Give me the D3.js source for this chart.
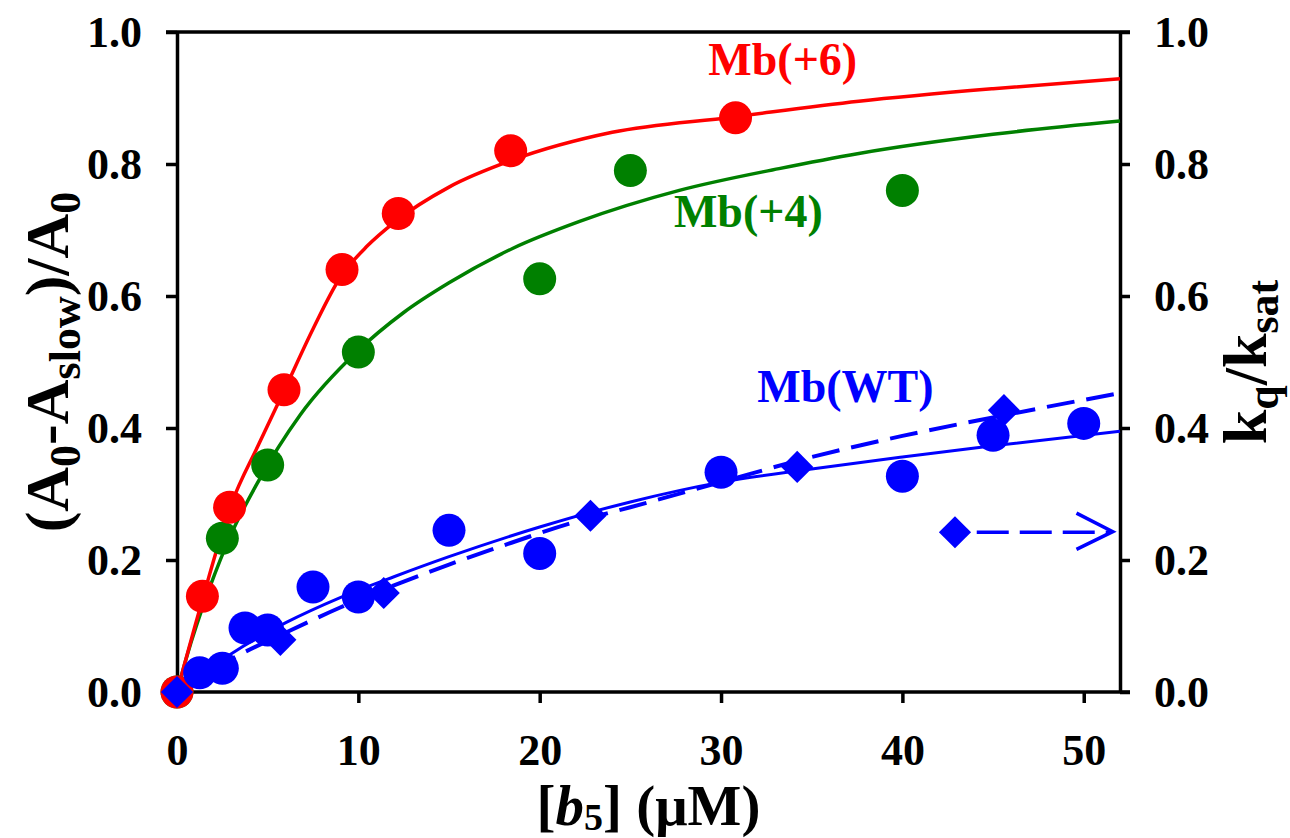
<!DOCTYPE html>
<html>
<head>
<meta charset="utf-8">
<script src="https://cdn.jsdelivr.net/npm/d3@7"></script>
<style>
  body { margin: 0; background: #fff; }
  svg text { font-family: "Liberation Serif", "Times New Roman", serif; font-weight: bold; }
</style>
</head>
<body>
<svg width="1290" height="838"></svg>
<script>
// measured points, Mb(+6)
const mb6X = [0, 1.4, 2.9, 5.9, 9.1, 12.2, 18.4, 30.8];
const mb6Y = [0, 0.145, 0.28, 0.458, 0.64, 0.725, 0.82, 0.87];
// measured points, Mb(+4)
const mb4X = [0, 2.5, 5, 10, 20, 25, 40];
const mb4Y = [0, 0.233, 0.344, 0.515, 0.626, 0.79, 0.76];
// measured points, Mb(WT) amplitude (circles)
const wtX = [1.25, 2.5, 3.75, 5, 7.5, 10, 15, 20, 30, 40, 45, 50];
const wtY = [0.029, 0.036, 0.097, 0.094, 0.159, 0.144, 0.245, 0.21, 0.333, 0.327, 0.389, 0.407];
// kq/ksat for Mb(WT) (diamonds, right axis)
const kqX = [0, 5.7, 11.4, 22.8, 34.2, 45.6];
const kqY = [0, 0.079, 0.15, 0.267, 0.341, 0.427];

// fitted curves
const fit6X = [0, 1.3, 3, 4.5, 6, 7.5, 9, 10.5, 12, 15, 18.5, 24, 30.6, 37.6, 45, 52];
const fit6Y = [0, 0.13, 0.285, 0.375, 0.462, 0.55, 0.628, 0.676, 0.712, 0.765, 0.806, 0.848, 0.871, 0.895, 0.914, 0.929];
const fit4X = [0, 0.5, 1.8, 3, 4.4, 6.8, 9.9, 12.5, 15, 18.5, 22.2, 27.7, 33.2, 37.6, 45, 52];
const fit4Y = [0, 0.05, 0.158, 0.24, 0.315, 0.42, 0.515, 0.575, 0.62, 0.672, 0.713, 0.76, 0.793, 0.816, 0.845, 0.865];
const fitWtX = [0, 1, 3, 6, 9, 12, 15, 20, 25, 30, 35, 40, 45, 52];
const fitWtY = [0, 0.02, 0.058, 0.105, 0.143, 0.175, 0.205, 0.25, 0.288, 0.318, 0.338, 0.356, 0.373, 0.395];
const fitKqX = [0, 3, 6, 9, 12, 15, 18, 22, 25, 30, 35, 40, 45, 52];
const fitKqY = [0, 0.05, 0.09, 0.128, 0.162, 0.193, 0.222, 0.258, 0.28, 0.318, 0.356, 0.388, 0.416, 0.453];

const xTicks = [0, 10, 20, 30, 40, 50];
const yTicks = [0, 0.2, 0.4, 0.6, 0.8, 1.0];

const colors = {mb6: "#ff0000", mb4: "#008000", wt: "#0000ff"};

const svg = d3.select("svg");

const x = d3.scaleLinear().domain([0, 52]).range([177, 1120]);
const y = d3.scaleLinear().domain([0, 1]).range([692, 32]);
const y2 = d3.scaleLinear().domain([0, 1]).range([692, 32]);

const zip = (xs, ys) => xs.map((v, i) => [v, ys[i]]);

// frame
svg.append("line")
  .attr("x1", x(0) - 11).attr("x2", x(52) + 10)
  .attr("y1", y(1)).attr("y2", y(1))
  .attr("stroke", "#000").attr("stroke-width", 3.5);

const styleAxis = g => {
  g.select(".domain").attr("stroke-width", 3.5);
  g.selectAll(".tick line").attr("stroke-width", 3.5);
  g.selectAll(".tick text").attr("font-size", 44).attr("fill", "#000");
};

svg.append("g")
  .attr("transform", `translate(0,${y(0)})`)
  .call(d3.axisBottom(x).tickValues(xTicks).tickSize(11).tickSizeOuter(0).tickPadding(31).tickFormat(d3.format("d")))
  .call(styleAxis)
  .call(g => g.select(".domain").attr("d", `M${x(0)},0H${x(52) + 10}`));

svg.append("g")
  .attr("transform", `translate(${x(0)},0)`)
  .call(d3.axisLeft(y).tickValues(yTicks).tickSize(11).tickSizeOuter(0).tickPadding(24).tickFormat(d3.format(".1f")))
  .call(styleAxis);

svg.append("g")
  .attr("transform", `translate(${x(52)},0)`)
  .call(d3.axisRight(y2).tickValues(yTicks).tickSize(10).tickSizeOuter(0).tickPadding(24).tickFormat(d3.format(".1f")))
  .call(styleAxis);

// curves
const line = (sy) => d3.line().x(d => x(d[0])).y(d => sy(d[1])).curve(d3.curveMonotoneX);

svg.append("path").datum(zip(fit4X, fit4Y))
  .attr("d", line(y)).attr("fill", "none").attr("stroke", colors.mb4).attr("stroke-width", 3.5);
svg.append("path").datum(zip(fit6X, fit6Y))
  .attr("d", line(y)).attr("fill", "none").attr("stroke", colors.mb6).attr("stroke-width", 3.5);
svg.append("path").datum(zip(fitWtX, fitWtY))
  .attr("d", line(y)).attr("fill", "none").attr("stroke", colors.wt).attr("stroke-width", 3);
svg.append("path").datum(zip(fitKqX, fitKqY))
  .attr("d", line(y2)).attr("fill", "none").attr("stroke", colors.wt).attr("stroke-width", 4)
  .attr("stroke-dasharray", "28,12");

// markers
const dots = (xs, ys, color) => svg.append("g").selectAll("circle")
  .data(zip(xs, ys)).join("circle")
  .attr("cx", d => x(d[0])).attr("cy", d => y(d[1]))
  .attr("r", 16.5).attr("fill", color);

dots(mb4X, mb4Y, colors.mb4);
dots(mb6X, mb6Y, colors.mb6);
dots(wtX, wtY, colors.wt);

const diamond = d3.symbol().type(d3.symbolDiamond2).size(660);
svg.append("g").selectAll("path")
  .data(zip(kqX, kqY)).join("path")
  .attr("transform", d => `translate(${x(d[0])},${y2(d[1])})`)
  .attr("d", diamond).attr("fill", colors.wt);

// right-axis marker key
svg.append("path")
  .attr("transform", `translate(${x(42.9)},${y2(0.242)})`)
  .attr("d", diamond).attr("fill", colors.wt);
svg.append("line")
  .attr("x1", x(44.1)).attr("x2", x(51.5))
  .attr("y1", y2(0.242)).attr("y2", y2(0.242))
  .attr("stroke", colors.wt).attr("stroke-width", 3.5).attr("stroke-dasharray", "32,11");
svg.append("path")
  .attr("d", d3.line()([[x(49.6), y2(0.271)], [x(51.6), y2(0.243)], [x(49.6), y2(0.216)]]))
  .attr("fill", "none").attr("stroke", colors.wt).attr("stroke-width", 3.5);

// series labels
const labels = [
  {text: "Mb(+6)", x: 29.3, y: 0.935, color: colors.mb6},
  {text: "Mb(+4)", x: 27.4, y: 0.705, color: colors.mb4},
  {text: "Mb(WT)", x: 32.0, y: 0.439, color: colors.wt}
];
svg.append("g").selectAll("text")
  .data(labels).join("text")
  .attr("x", d => x(d.x)).attr("y", d => y(d.y))
  .attr("font-size", 46).attr("fill", d => d.color)
  .text(d => d.text);

// axis titles
const sub = (t, s, size, shift) => {
  t.append("tspan").attr("dy", shift).attr("font-size", size).text(s);
};

const xt = svg.append("text")
  .attr("x", (x(0) + x(52)) / 2).attr("y", 825)
  .attr("text-anchor", "middle").attr("font-size", 57).attr("fill", "#000");
xt.append("tspan").text("[");
xt.append("tspan").attr("font-style", "italic").text("b");
sub(xt, "5", 38, 5);
xt.append("tspan").attr("dy", -5).text("] (μM)");

const lt = svg.append("text")
  .attr("transform", `translate(68,${(y(0) + y(1)) / 2}) rotate(-90)`)
  .attr("text-anchor", "middle").attr("font-size", 62).attr("fill", "#000");
lt.append("tspan").text("(A");
sub(lt, "0", 44, 12);
lt.append("tspan").attr("dy", -12).text("-A");
sub(lt, "slow", 44, 12);
lt.append("tspan").attr("dy", -12).text(")/A");
sub(lt, "0", 44, 12);

const rt = svg.append("text")
  .attr("transform", `translate(1266,${(y(0) + y(1)) / 2}) rotate(-90)`)
  .attr("text-anchor", "middle").attr("font-size", 62).attr("fill", "#000");
rt.append("tspan").text("k");
sub(rt, "q", 44, 12);
rt.append("tspan").attr("dy", -12).text("/k");
sub(rt, "sat", 44, 12);
</script>
</body>
</html>
